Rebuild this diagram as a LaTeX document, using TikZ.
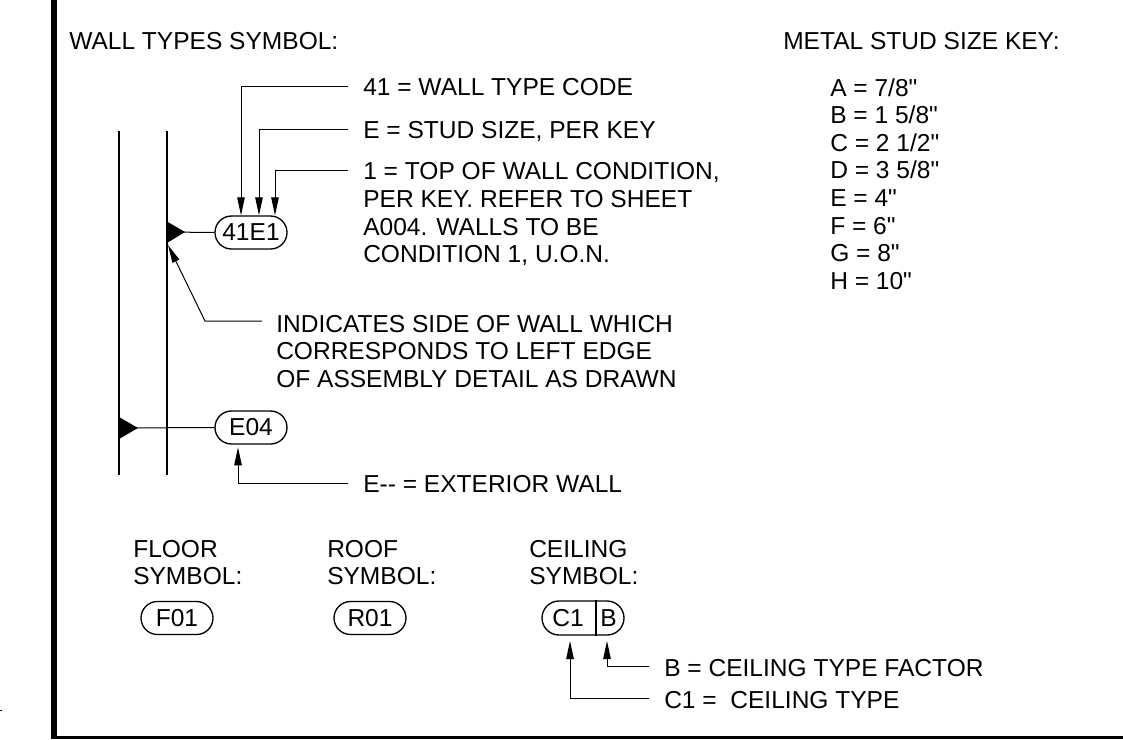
\documentclass[tikz,border=0pt]{standalone}
\usepackage{fontspec}
\newfontfamily\lfont{Liberation Sans}
\usetikzlibrary{arrows.meta,shapes.misc}
\tikzset{
  x=0.75pt,y=-0.75pt,
  lbl/.style={anchor=base west,inner sep=0pt,font=\lfont\fontsize{18.4}{21.4}\selectfont,align=left},
  pill/.style={draw,rounded rectangle,line width=1pt,inner sep=0pt,minimum height=24.75pt,minimum width=54pt,font=\lfont\fontsize{18.4}{21.4}\selectfont},
  plain/.style={inner sep=0pt,font=\lfont\fontsize{18.4}{21.4}\selectfont},
  leader/.style={line width=0.75pt,-{Triangle[length=13.5pt,width=5.6pt]}},
  thin line/.style={line width=0.75pt},
  wall/.style={line width=1.5pt},
  flag/.style={fill=black,draw=none}
}
\begin{document}
\begin{tikzpicture}
\useasboundingbox (0,0) rectangle (1123,739);
% frame
\fill (50.5,0) rectangle (57,739);
\fill (50.5,735.5) rectangle (1123,739);
\draw[line width=0.6pt] (0,710) -- (2,710);
% headings
\node[lbl] (hw) at (69,49.5) {WALL TYPES SYMBOL:};
\node[lbl] (hk) at (783,49.5) {METAL STUD SIZE KEY:};
% key
\node[lbl] (k1) at (830,96) {A = 7/8"};
\node[lbl] (k2) at (830,123.5) {B = 1 5/8"};
\node[lbl] (k3) at (830,151) {C = 2 1/2"};
\node[lbl] (k4) at (830,178.5) {D = 3 5/8"};
\node[lbl] (k5) at (830,206.5) {E = 4"};
\node[lbl] (k6) at (830,234) {F = 6"};
\node[lbl] (k7) at (830,261.5) {G = 8"};
\node[lbl] (k8) at (830,289) {H = 10"};
% labels
\node[lbl] (l41) at (363,95) {41 = WALL TYPE CODE};
\node[lbl] (lE) at (363,138) {E = STUD SIZE, PER KEY};
\node[lbl] (l1a) at (363,179.5) {1 = TOP OF WALL CONDITION,};
\node[lbl] (l1b) at (363,207) {PER KEY. REFER TO SHEET};
\node[lbl] (l1c) at (363,235) {A004. WALLS TO BE};
\node[lbl] (l1d) at (363,262.5) {CONDITION 1, U.O.N.};
\node[lbl] (li1) at (276,332) {INDICATES SIDE OF WALL WHICH};
\node[lbl] (li2) at (276,359.5) {CORRESPONDS TO LEFT EDGE};
\node[lbl] (li3) at (276,387) {OF ASSEMBLY DETAIL AS DRAWN};
\node[lbl] (lx) at (363,492.5) {E-- = EXTERIOR WALL};
\node[lbl] (f1) at (133,557) {FLOOR};
\node[lbl] (f2) at (133,584) {SYMBOL:};
\node[lbl] (r1) at (327,557) {ROOF};
\node[lbl] (r2) at (327,584) {SYMBOL:};
\node[lbl] (c1) at (529,557) {CEILING};
\node[lbl] (c2) at (529,584) {SYMBOL:};
\node[lbl] (lb) at (664,676) {B = CEILING TYPE FACTOR};
\node[lbl] (lc) at (664,708) {C1 =\ \ CEILING TYPE};
% walls
\coordinate (w1t) at (119,131); \coordinate (w1b) at (119,475);
\coordinate (w2t) at (167,131); \coordinate (w2b) at (167,475);
\draw[wall] (w1t) -- (w1b);
\draw[wall] (w2t) -- (w2b);
% tags
\node[pill] (t41) at (251,232.5) {41E1};
\node[pill] (tE) at (251,427.5) {E04};
\node[pill] (tF) at (177,618) {F01};
\node[pill] (tR) at (370,618) {R01};
\node[pill,minimum height=25.5pt,minimum width=61.5pt] (tC) at (583,618) {};
\draw[line width=1pt] ([xshift=9.75pt]tC.north) -- ([xshift=9.75pt]tC.south);
\node[plain] (nC) at (568,618) {C1};
\node[plain] (nB) at (608.5,618) {B};
% flags
\coordinate (fa) at (167,232); \coordinate (fb) at (119,428);
\fill[flag] (167,221.5) -- (185,232) -- (167,243) -- cycle;
\fill[flag] (119,417) -- (138,428) -- (119,439) -- cycle;
\draw[thin line] (fa) -- (t41.west);
\draw[thin line] (fb) -- (tE.west);
% leaders
\coordinate (s41) at (348,86);
\coordinate (sE) at (348,129);
\coordinate (s1) at (348,170);
\coordinate (si) at (262,321);
\coordinate (bi) at (205,321);
\coordinate (ti) at (168,245);
\coordinate (sx) at (348,483);
\coordinate (sb) at (649,666);
\coordinate (sc) at (649,698);
\draw[leader] (s41) -| ([xshift=-7.5pt]t41.north);
\draw[leader] (sE) -| ([xshift=6pt]t41.north);
\draw[leader] (s1) -| ([xshift=18pt]t41.north);
\draw[leader] (si) -- (bi) -- (ti);
\draw[leader] (sx) -| ([xshift=-9.75pt,yshift=-2pt]tE.south);
\draw[leader] (sb) -| ([xshift=18pt,yshift=-4pt]tC.south);
\draw[leader] (sc) -| ([xshift=-9.75pt,yshift=-4pt]tC.south);
\end{tikzpicture}
\end{document}
